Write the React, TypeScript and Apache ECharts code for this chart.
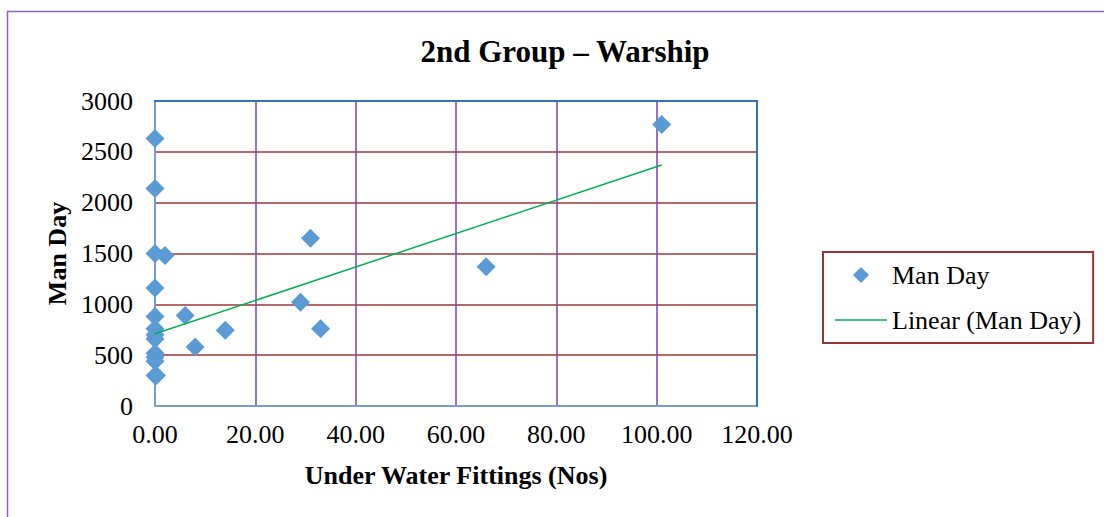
import React, { useEffect, useRef } from "react";
import * as echarts from "echarts";

const chartTitle = "2nd Group – Warship";
const xAxisName = "Under Water Fittings (Nos)";
const yAxisName = "Man Day";
const seriesName = "Man Day";
const trendName = "Linear (Man Day)";

const fittings = [0, 0, 0, 0, 0, 0, 0, 0, 0, 0, 0, 0, 0.3, 2, 6, 8, 14, 29, 31, 33, 66, 101];
const manDays = [2630, 2140, 1500, 1160, 880, 760, 700, 660, 520, 480, 440, 300, 300, 1480, 890, 580, 745, 1020, 1650, 760, 1370, 2770];

const trendX = [0, 101];
const trendY = [710, 2370];

const xTicks = { min: 0, max: 120, interval: 20 };
const yTicks = { min: 0, max: 3000, interval: 500 };

const FONT = "'Liberation Serif', 'Times New Roman', serif";
const TICK_FS = 26;

export default function App() {
  const ref = useRef<HTMLDivElement>(null);
  useEffect(() => {
    document.body.style.margin = "0";
    const chart = echarts.init(ref.current!, null, { renderer: "svg" });
    const edgeAxis = {
      axisTick: { show: false },
      axisLabel: { show: false },
      splitLine: { show: false },
      axisLine: { show: true, onZero: false, lineStyle: { color: "#2E75B6", width: 2 } },
      z: 5,
    };
    chart.setOption({
      animation: false,
      backgroundColor: "#ffffff",
      textStyle: { fontFamily: FONT },
      title: {
        text: chartTitle,
        left: 560,
        textAlign: "center",
        top: 31,
        textStyle: { fontFamily: FONT, fontSize: 31, fontWeight: "bold", color: "#000" },
      },
      graphic: [
        {
          type: "rect",
          shape: { x: 7.5, y: 11.5, width: 1200, height: 600 },
          style: { fill: "none", stroke: "#8A63C4", lineWidth: 1.5 },
          silent: true,
        },
      ],
      legend: {
        orient: "vertical",
        left: 823,
        top: 252,
        padding: [10, 12, 10, 12],
        itemGap: 19,
        itemWidth: 52,
        itemHeight: 16,
        symbolKeepAspect: true,
        borderColor: "#953735",
        borderWidth: 2,
        textStyle: { fontFamily: FONT, fontSize: TICK_FS, color: "#000" },
        data: [
          { name: seriesName, icon: "path://M0,-1L1,0L0,1L-1,0Z", itemStyle: { color: "#5B9BD5" } },
          { name: trendName, icon: "path://M0,0H52V1.6H0Z", itemStyle: { color: "#00B050" } },
        ],
      },
      grid: {
        left: 155,
        right: 347,
        top: 101,
        bottom: 111,
        show: false,
      },
      xAxis: [
        {
          type: "value",
          min: xTicks.min,
          max: xTicks.max,
          interval: xTicks.interval,
          name: xAxisName,
          nameLocation: "middle",
          nameGap: 56,
          nameTextStyle: { fontFamily: FONT, fontSize: TICK_FS, fontWeight: "bold", color: "#000" },
          axisLine: { show: true, onZero: false, lineStyle: { color: "#7A9CC8", width: 2 } },
          axisTick: { show: false },
          axisLabel: {
            fontFamily: FONT,
            fontSize: TICK_FS,
            color: "#000",
            margin: 15,
            formatter: (v: number) => v.toFixed(2),
          },
          splitLine: { show: true, lineStyle: { color: "#7B3FB8", width: 1.5 } },
          z: 4,
        },
        { type: "value", position: "top", min: xTicks.min, max: xTicks.max, interval: xTicks.interval, ...edgeAxis },
      ],
      yAxis: [
        {
          type: "value",
          min: yTicks.min,
          max: yTicks.max,
          interval: yTicks.interval,
          name: yAxisName,
          nameLocation: "middle",
          nameGap: 80,
          nameRotate: 90,
          nameTextStyle: { fontFamily: FONT, fontSize: TICK_FS, fontWeight: "bold", color: "#000" },
          axisLine: { show: true, onZero: false, lineStyle: { color: "#7A9CC8", width: 2 } },
          axisTick: { show: false },
          axisLabel: {
            fontFamily: FONT,
            fontSize: TICK_FS,
            color: "#000",
            margin: 22,
            formatter: (v: number) => String(v),
          },
          splitLine: { show: true, lineStyle: { color: "#A3373A", width: 1.5 } },
          z: 4,
        },
        { type: "value", position: "right", min: yTicks.min, max: yTicks.max, interval: yTicks.interval, ...edgeAxis },
      ],
      series: [
        {
          name: seriesName,
          type: "scatter",
          symbol: "diamond",
          symbolSize: 19,
          itemStyle: { color: "#5B9BD5", opacity: 1 },
          data: fittings.map((x, i) => [x, manDays[i]]),
          z: 6,
        },
        {
          name: trendName,
          type: "line",
          showSymbol: false,
          symbol: "none",
          lineStyle: { color: "#00B050", width: 1.5 },
          itemStyle: { color: "#00B050" },
          data: trendX.map((x, i) => [x, trendY[i]]),
          z: 7,
        },
      ],
    });
    return () => chart.dispose();
  }, []);
  return <div ref={ref} style={{ width: 1104, height: 517 }} />;
}
